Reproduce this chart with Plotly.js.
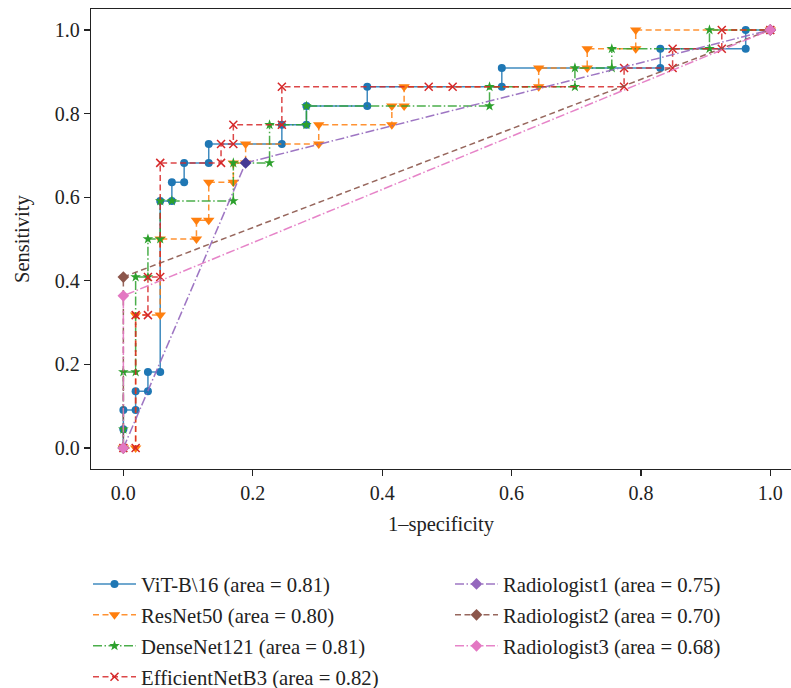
<!DOCTYPE html>
<html>
<head>
<meta charset="utf-8">
<script src="https://cdn.plot.ly/plotly-3.0.1.min.js"></script>
<style>html,body{margin:0;padding:0;background:#fff;}#chart{width:791px;height:688px;}</style>
</head>
<body>
<div id="chart"></div>
<script>
// ---- data ----
const seriesNames = ["ViT-B\\16", "ResNet50", "DenseNet121", "EfficientNetB3", "Radiologist1", "Radiologist2", "Radiologist3"];
const aucValues = [0.81, 0.80, 0.81, 0.82, 0.75, 0.70, 0.68];

const vitFpr = [0,0,0,0.019,0.019,0.038,0.038,0.057,0.057,0.075,0.075,0.094,0.094,0.132,0.132,0.245,0.245,0.283,0.283,0.377,0.377,0.585,0.585,0.830,0.830,0.962,0.962,1];
const vitTpr = [0,0.045,0.091,0.091,0.136,0.136,0.182,0.182,0.591,0.591,0.636,0.636,0.682,0.682,0.727,0.727,0.773,0.773,0.818,0.818,0.864,0.864,0.909,0.909,0.955,0.955,1,1];

const resFpr = [0,0.019,0.019,0.057,0.057,0.113,0.113,0.132,0.132,0.170,0.170,0.189,0.189,0.302,0.302,0.415,0.415,0.434,0.434,0.642,0.642,0.717,0.717,0.792,0.792,1];
const resTpr = [0,0,0.318,0.318,0.5,0.5,0.545,0.545,0.636,0.636,0.682,0.682,0.727,0.727,0.773,0.773,0.818,0.818,0.864,0.864,0.909,0.909,0.955,0.955,1,1];

const denseFpr = [0,0,0,0.019,0.019,0.038,0.038,0.057,0.057,0.075,0.170,0.170,0.226,0.226,0.283,0.283,0.566,0.566,0.698,0.698,0.755,0.755,0.906,0.906,1];
const denseTpr = [0,0.045,0.182,0.182,0.409,0.409,0.5,0.5,0.591,0.591,0.591,0.682,0.682,0.773,0.773,0.818,0.818,0.864,0.864,0.909,0.909,0.955,0.955,1,1];

const effFpr = [0,0.019,0.019,0.038,0.038,0.057,0.057,0.151,0.151,0.170,0.170,0.245,0.245,0.472,0.509,0.774,0.774,0.849,0.849,0.925,0.925,1];
const effTpr = [0,0,0.318,0.318,0.409,0.409,0.682,0.682,0.727,0.727,0.773,0.773,0.864,0.864,0.864,0.864,0.909,0.909,0.955,0.955,1,1];

const rad1Fpr = [0,0.189,1];
const rad1Tpr = [0,0.682,1];
const rad2Fpr = [0,0,1];
const rad2Tpr = [0,0.409,1];
const rad3Fpr = [0,0,1];
const rad3Tpr = [0,0.364,1];

const tickVals = [0, 0.2, 0.4, 0.6, 0.8, 1.0];
const tickText = ["0.0", "0.2", "0.4", "0.6", "0.8", "1.0"];
const xTitle = "1\u2013specificity";
const yTitle = "Sensitivity";

// ---- styling ----
const FONT = "Liberation Serif, Times New Roman, serif";
const DASH = "6px,3.5px";
const DASHDOT = "9px,2.5px,1.5px,2.5px";

function lbl(i){ return seriesNames[i] + " (area = " + aucValues[i].toFixed(2) + ")"; }

const traces = [
  {x: vitFpr, y: vitTpr, name: lbl(0), legend: "legend", legendgroup: "g0",
   line: {color: "rgba(31,119,180,0.85)", width: 1.5},
   marker: {symbol: "circle", size: 8, color: "#1f77b4"}},
  {x: resFpr, y: resTpr, name: lbl(1), legend: "legend", legendgroup: "g1",
   line: {color: "rgba(255,127,14,0.85)", width: 1.5, dash: DASH},
   marker: {symbol: "triangle-down", size: 10, color: "#ff7f0e"}},
  {x: denseFpr, y: denseTpr, name: lbl(2), legend: "legend", legendgroup: "g2",
   line: {color: "rgba(44,160,44,0.85)", width: 1.5, dash: DASHDOT},
   marker: {symbol: "star", size: 8, color: "#2ca02c"}},
  {x: effFpr, y: effTpr, name: lbl(3), legend: "legend", legendgroup: "g3",
   line: {color: "rgba(214,39,40,0.85)", width: 1.5, dash: DASH},
   marker: {symbol: "x-thin", size: 8, color: "#d62728", line: {color: "#d62728", width: 1.5}}},
  {x: rad1Fpr, y: rad1Tpr, name: lbl(4), legend: "legend2", legendgroup: "g4",
   line: {color: "rgba(148,103,189,0.9)", width: 1.5, dash: DASHDOT},
   marker: {symbol: "diamond", size: 9, color: ["#9467bd", "#453a94", "#9467bd"]}},
  {x: rad2Fpr, y: rad2Tpr, name: lbl(5), legend: "legend2", legendgroup: "g5",
   line: {color: "rgba(140,86,75,0.9)", width: 1.5, dash: DASH},
   marker: {symbol: "diamond", size: 9, color: "#8c564b"}},
  {x: rad3Fpr, y: rad3Tpr, name: lbl(6), legend: "legend2", legendgroup: "g6",
   line: {color: "rgba(227,119,194,0.9)", width: 1.5, dash: DASHDOT},
   marker: {symbol: "diamond", size: 9, color: "#e377c2"}}
].map(t => Object.assign({type: "scatter", mode: "lines+markers", hoverinfo: "skip", cliponaxis: true}, t));

const axisCommon = {
  showgrid: false, zeroline: false, showline: true, linecolor: "#222", linewidth: 1.3,
  ticks: "outside", ticklen: 6, tickwidth: 1.2, tickcolor: "#222",
  tickvals: tickVals, ticktext: tickText, tickangle: 0,
  tickfont: {family: FONT, size: 20, color: "#222"}
};

const legendCommon = {
  xref: "container", yref: "container", xanchor: "left", yanchor: "top",
  bgcolor: "rgba(0,0,0,0)", borderwidth: 0,
  font: {family: FONT, size: 20.7, color: "#222"},
  itemwidth: 43, traceorder: "grouped", tracegroupgap: 1
};

const layout = {
  width: 791, height: 688,
  margin: {l: 91, r: 0, t: 9, b: 219, pad: 0, autoexpand: false},
  paper_bgcolor: "#fff", plot_bgcolor: "#fff",
  font: {family: FONT, size: 20, color: "#222"},
  xaxis: Object.assign({}, axisCommon, {
    range: [-0.05, 1.032], mirror: true,
    title: {text: xTitle, font: {family: FONT, size: 20.5, color: "#222"}, standoff: 13}
  }),
  yaxis: Object.assign({}, axisCommon, {
    range: [-0.05, 1.05], mirror: false
  }),
  annotations: [{
    text: yTitle, xref: "paper", yref: "paper", x: (22 - 91) / 700, y: 0.5,
    xanchor: "center", yanchor: "middle", textangle: -90, showarrow: false,
    font: {family: FONT, size: 20.5, color: "#222"}
  }],
  showlegend: true,
  legend: Object.assign({}, legendCommon, {x: 88 / 791, y: 1 - 564 / 688}),
  legend2: Object.assign({}, legendCommon, {x: 450 / 791, y: 1 - 564 / 688})
};

Plotly.newPlot("chart", traces, layout, {staticPlot: true, displayModeBar: false});
</script>
</body>
</html>
